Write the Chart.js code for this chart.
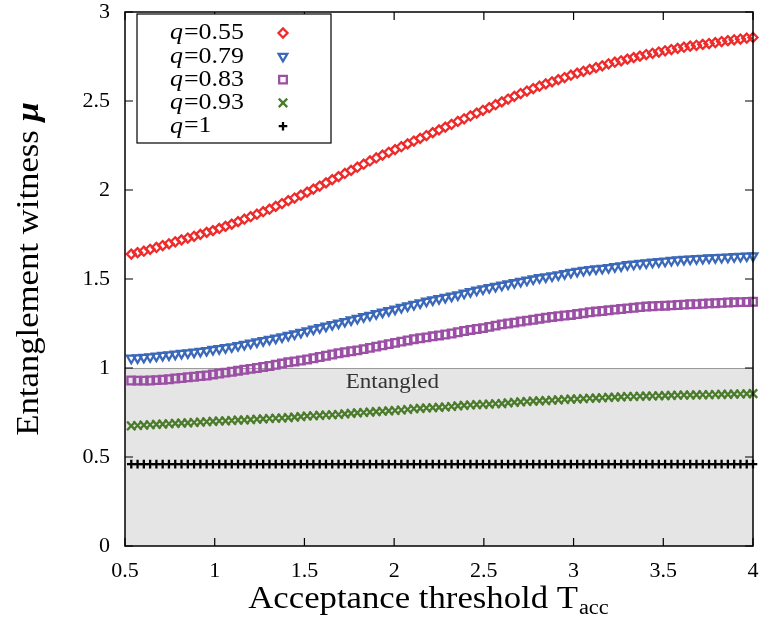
<!DOCTYPE html>
<html>
<head>
<meta charset="utf-8">
<script src="https://cdn.jsdelivr.net/npm/chart.js@4/dist/chart.umd.min.js"></script>
<style>
  html, body { margin: 0; padding: 0; background: #fff; }
  #wrap { width: 763px; height: 622px; position: relative; }
</style>
</head>
<body>
<div id="wrap"><canvas id="witnessChart"></canvas></div>
<script>
// acceptance threshold samples (x)
const tAcc = [
  0.535, 0.570, 0.605, 0.640, 0.675, 0.710, 0.745, 0.780, 0.815, 0.850,
  0.885, 0.920, 0.955, 0.990, 1.025, 1.060, 1.095, 1.130, 1.165, 1.200,
  1.235, 1.270, 1.305, 1.340, 1.375, 1.410, 1.445, 1.480, 1.515, 1.550,
  1.585, 1.620, 1.655, 1.690, 1.725, 1.760, 1.795, 1.830, 1.865, 1.900,
  1.935, 1.970, 2.005, 2.040, 2.075, 2.110, 2.145, 2.180, 2.215, 2.250,
  2.285, 2.320, 2.355, 2.390, 2.425, 2.460, 2.495, 2.530, 2.565, 2.600,
  2.635, 2.670, 2.705, 2.740, 2.775, 2.810, 2.845, 2.880, 2.915, 2.950,
  2.985, 3.020, 3.055, 3.090, 3.125, 3.160, 3.195, 3.230, 3.265, 3.300,
  3.335, 3.370, 3.405, 3.440, 3.475, 3.510, 3.545, 3.580, 3.615, 3.650,
  3.685, 3.720, 3.755, 3.790, 3.825, 3.860, 3.895, 3.930, 3.965, 4.000
];

// entanglement witness mu, one list per q
const muQ055 = [
  1.640, 1.648, 1.656, 1.667, 1.677, 1.688, 1.698, 1.709, 1.720, 1.730,
  1.740, 1.751, 1.762, 1.772, 1.784, 1.796, 1.808, 1.822, 1.836, 1.850,
  1.864, 1.878, 1.892, 1.908, 1.924, 1.940, 1.955, 1.971, 1.988, 2.005,
  2.022, 2.040, 2.058, 2.075, 2.093, 2.110, 2.128, 2.145, 2.163, 2.180,
  2.196, 2.212, 2.227, 2.243, 2.259, 2.275, 2.290, 2.306, 2.322, 2.338,
  2.353, 2.369, 2.385, 2.400, 2.416, 2.432, 2.448, 2.463, 2.479, 2.495,
  2.511, 2.526, 2.542, 2.556, 2.570, 2.583, 2.596, 2.608, 2.620, 2.632,
  2.645, 2.656, 2.667, 2.677, 2.688, 2.698, 2.709, 2.718, 2.726, 2.735,
  2.744, 2.752, 2.761, 2.768, 2.775, 2.782, 2.789, 2.796, 2.802, 2.808,
  2.813, 2.818, 2.823, 2.828, 2.834, 2.839, 2.844, 2.848, 2.853, 2.857
];
const muQ079 = [
  1.055, 1.057, 1.060, 1.063, 1.067, 1.071, 1.074, 1.078, 1.082, 1.085,
  1.089, 1.093, 1.098, 1.104, 1.109, 1.114, 1.119, 1.126, 1.133, 1.140,
  1.147, 1.154, 1.161, 1.168, 1.175, 1.183, 1.191, 1.200, 1.209, 1.218,
  1.226, 1.235, 1.244, 1.252, 1.261, 1.270, 1.279, 1.288, 1.296, 1.305,
  1.314, 1.322, 1.331, 1.340, 1.349, 1.357, 1.366, 1.375, 1.383, 1.390,
  1.397, 1.404, 1.411, 1.420, 1.429, 1.437, 1.444, 1.451, 1.458, 1.465,
  1.472, 1.479, 1.486, 1.493, 1.500, 1.507, 1.512, 1.517, 1.523, 1.530,
  1.537, 1.543, 1.548, 1.553, 1.557, 1.560, 1.564, 1.569, 1.574, 1.580,
  1.583, 1.587, 1.590, 1.594, 1.597, 1.600, 1.604, 1.607, 1.610, 1.612,
  1.614, 1.616, 1.618, 1.620, 1.621, 1.623, 1.625, 1.627, 1.629, 1.630
];
const muQ083 = [
  0.930, 0.929, 0.929, 0.930, 0.932, 0.934, 0.937, 0.941, 0.944, 0.948,
  0.951, 0.955, 0.958, 0.964, 0.969, 0.974, 0.979, 0.985, 0.990, 0.995,
  1.000, 1.006, 1.011, 1.018, 1.025, 1.032, 1.037, 1.042, 1.048, 1.055,
  1.062, 1.069, 1.076, 1.083, 1.089, 1.094, 1.099, 1.106, 1.113, 1.120,
  1.127, 1.134, 1.141, 1.148, 1.155, 1.162, 1.167, 1.172, 1.178, 1.183,
  1.188, 1.194, 1.201, 1.208, 1.214, 1.219, 1.224, 1.231, 1.238, 1.245,
  1.250, 1.255, 1.261, 1.266, 1.271, 1.277, 1.282, 1.287, 1.291, 1.295,
  1.298, 1.303, 1.308, 1.313, 1.317, 1.320, 1.324, 1.328, 1.331, 1.335,
  1.338, 1.342, 1.345, 1.347, 1.349, 1.350, 1.352, 1.354, 1.356, 1.358,
  1.359, 1.361, 1.363, 1.364, 1.366, 1.368, 1.369, 1.370, 1.371, 1.372
];
const muQ093 = [
  0.675, 0.677, 0.679, 0.681, 0.683, 0.685, 0.687, 0.689, 0.690, 0.692,
  0.694, 0.696, 0.698, 0.700, 0.702, 0.703, 0.705, 0.707, 0.708, 0.710,
  0.712, 0.714, 0.716, 0.718, 0.719, 0.721, 0.724, 0.727, 0.730, 0.732,
  0.734, 0.736, 0.737, 0.739, 0.742, 0.745, 0.748, 0.750, 0.752, 0.755,
  0.757, 0.759, 0.761, 0.764, 0.767, 0.771, 0.773, 0.775, 0.777, 0.779,
  0.781, 0.784, 0.787, 0.790, 0.792, 0.794, 0.795, 0.797, 0.799, 0.800,
  0.804, 0.807, 0.810, 0.812, 0.814, 0.815, 0.817, 0.819, 0.821, 0.823,
  0.825, 0.826, 0.828, 0.830, 0.831, 0.833, 0.835, 0.836, 0.838, 0.840,
  0.840, 0.841, 0.842, 0.843, 0.844, 0.845, 0.846, 0.847, 0.848, 0.848,
  0.849, 0.850, 0.850, 0.851, 0.852, 0.852, 0.853, 0.854, 0.855, 0.856
];
const muQ1 = [
  0.46, 0.46, 0.46, 0.46, 0.46, 0.46, 0.46, 0.46, 0.46, 0.46,
  0.46, 0.46, 0.46, 0.46, 0.46, 0.46, 0.46, 0.46, 0.46, 0.46,
  0.46, 0.46, 0.46, 0.46, 0.46, 0.46, 0.46, 0.46, 0.46, 0.46,
  0.46, 0.46, 0.46, 0.46, 0.46, 0.46, 0.46, 0.46, 0.46, 0.46,
  0.46, 0.46, 0.46, 0.46, 0.46, 0.46, 0.46, 0.46, 0.46, 0.46,
  0.46, 0.46, 0.46, 0.46, 0.46, 0.46, 0.46, 0.46, 0.46, 0.46,
  0.46, 0.46, 0.46, 0.46, 0.46, 0.46, 0.46, 0.46, 0.46, 0.46,
  0.46, 0.46, 0.46, 0.46, 0.46, 0.46, 0.46, 0.46, 0.46, 0.46,
  0.46, 0.46, 0.46, 0.46, 0.46, 0.46, 0.46, 0.46, 0.46, 0.46,
  0.46, 0.46, 0.46, 0.46, 0.46, 0.46, 0.46, 0.46, 0.46, 0.46
];

const qLabels = ['0.55', '0.79', '0.83', '0.93', '1'];
const xTicks = [0.5, 1, 1.5, 2, 2.5, 3, 3.5, 4];
const yTicks = [0, 0.5, 1, 1.5, 2, 2.5, 3];
const entangledBand = [0, 1]; // shaded region of mu

const SERIF = "'Liberation Serif', 'Times New Roman', serif";

function toPoints(ys) {
  return tAcc.map((x, i) => ({ x: x, y: ys[i] }));
}

function markerSet(label, ys, color, style, radius, rotation) {
  return {
    label: label,
    data: toPoints(ys),
    showLine: false,
    pointStyle: style,
    pointRadius: radius,
    pointRotation: rotation || 0,
    pointBorderColor: color,
    pointBackgroundColor: 'rgba(0,0,0,0)',
    pointBorderWidth: 2.3,
    pointHoverRadius: radius,
    clip: false
  };
}

// text a bit wider than Liberation Serif, closer to the TeX look
function wideText(ctx, txt, x, y, sx) {
  ctx.save();
  ctx.translate(x, y);
  ctx.scale(sx, 1);
  ctx.fillText(txt, 0, 0);
  ctx.restore();
}

// shaded band, frame, inward ticks, legend and axis titles
const decor = {
  id: 'decor',
  beforeDatasetsDraw(chart) {
    const { ctx, chartArea: a, scales: { x, y } } = chart;
    const yTop = y.getPixelForValue(entangledBand[1]);
    const yBot = y.getPixelForValue(entangledBand[0]);
    ctx.save();
    ctx.fillStyle = '#e5e5e5';
    ctx.fillRect(a.left, yTop, a.right - a.left, yBot - yTop);
    ctx.strokeStyle = '#9a9a9a';
    ctx.lineWidth = 1;
    ctx.beginPath();
    ctx.moveTo(a.left, yTop + 0.5);
    ctx.lineTo(a.right, yTop + 0.5);
    ctx.stroke();
    ctx.fillStyle = '#333';
    ctx.font = '20px ' + SERIF;
    ctx.textAlign = 'left';
    ctx.textBaseline = 'middle';
    const w = ctx.measureText('Entangled').width * 1.15;
    wideText(ctx, 'Entangled', x.getPixelForValue(1.99) - w / 2, y.getPixelForValue(0.915), 1.15);
    ctx.restore();
  },
  afterDatasetsDraw(chart) {
    const { ctx, chartArea: a, scales: { x, y } } = chart;
    ctx.save();
    // frame
    ctx.strokeStyle = '#000';
    ctx.lineWidth = 1.5;
    ctx.strokeRect(a.left, a.top, a.right - a.left, a.bottom - a.top);
    // ticks pointing inward on all four sides
    const tl = 8;
    ctx.lineWidth = 1.2;
    ctx.beginPath();
    xTicks.forEach(v => {
      const px = x.getPixelForValue(v);
      ctx.moveTo(px, a.bottom); ctx.lineTo(px, a.bottom - tl);
      ctx.moveTo(px, a.top); ctx.lineTo(px, a.top + tl);
    });
    yTicks.forEach(v => {
      const py = y.getPixelForValue(v);
      ctx.moveTo(a.left, py); ctx.lineTo(a.left + tl, py);
      ctx.moveTo(a.right, py); ctx.lineTo(a.right - tl, py);
    });
    ctx.stroke();

    // legend box
    const bx = a.left + 12, by = a.top + 2, bw = 194, bh = 129;
    ctx.fillStyle = '#fff';
    ctx.fillRect(bx, by, bw, bh);
    ctx.lineWidth = 1.2;
    ctx.strokeRect(bx, by, bw, bh);
    chart.data.datasets.forEach((ds, i) => {
      const rowY = by + 19 + i * 23.3;
      ctx.fillStyle = '#000';
      ctx.textBaseline = 'middle';
      ctx.textAlign = 'left';
      ctx.font = 'italic 24px ' + SERIF;
      wideText(ctx, 'q', bx + 33, rowY, 1.08);
      const qw = ctx.measureText('q').width * 1.08;
      ctx.font = '24px ' + SERIF;
      wideText(ctx, '=' + qLabels[i], bx + 33 + qw + 1, rowY, 1.08);
      ctx.strokeStyle = ds.pointBorderColor;
      ctx.fillStyle = 'rgba(0,0,0,0)';
      ctx.lineWidth = ds.pointBorderWidth;
      Chart.helpers.drawPoint(ctx, {
        pointStyle: ds.pointStyle,
        radius: ds.pointRadius,
        rotation: ds.pointRotation,
        borderWidth: ds.pointBorderWidth
      }, bx + 146, rowY);
    });

    // y axis title
    const sx = 1.12;
    ctx.fillStyle = '#000';
    ctx.save();
    ctx.translate(30, (a.top + a.bottom) / 2 - 10);
    ctx.rotate(-Math.PI / 2);
    ctx.textBaseline = 'middle';
    ctx.textAlign = 'left';
    const yt = 'Entanglement witness ';
    ctx.font = 'bold italic 31px ' + SERIF;
    const muW = ctx.measureText('\u03bc').width * sx;
    ctx.font = '31px ' + SERIF;
    const ytW = ctx.measureText(yt).width * sx;
    const y0 = -(ytW + muW) / 2;
    wideText(ctx, yt, y0, 0, sx);
    ctx.font = 'bold italic 31px ' + SERIF;
    wideText(ctx, '\u03bc', y0 + ytW, 0, sx);
    ctx.restore();

    // x axis title with subscript
    ctx.textBaseline = 'alphabetic';
    ctx.textAlign = 'left';
    ctx.font = '31px ' + SERIF;
    const xt = 'Acceptance threshold T';
    const xtW = ctx.measureText(xt).width * sx;
    ctx.font = '20px ' + SERIF;
    const subW = ctx.measureText('acc').width * sx;
    const tx = 428 - (xtW + subW) / 2;
    ctx.font = '31px ' + SERIF;
    wideText(ctx, xt, tx, 608, sx);
    ctx.font = '20px ' + SERIF;
    wideText(ctx, 'acc', tx + xtW + 1, 614, sx);
    ctx.restore();
  }
};

const ctx = document.getElementById('witnessChart').getContext('2d');
new Chart(ctx, {
  type: 'scatter',
  data: {
    datasets: [
      markerSet('q=0.55', muQ055, '#ee2b2b', 'rectRot', 4.5),
      markerSet('q=0.79', muQ079, '#3b68b9', 'triangle', 5, 180),
      markerSet('q=0.83', muQ083, '#9b4fa5', 'rect', 5.4),
      markerSet('q=0.93', muQ093, '#4b7c2c', 'crossRot', 6),
      markerSet('q=1', muQ1, '#000000', 'cross', 4.3)
    ]
  },
  options: {
    responsive: true,
    maintainAspectRatio: false,
    animation: false,
    layout: { padding: { left: 0, right: 10, top: 12, bottom: 0 } },
    plugins: {
      legend: { display: false },
      tooltip: { enabled: false }
    },
    scales: {
      x: {
        type: 'linear',
        min: 0.5,
        max: 4,
        afterBuildTicks: s => { s.ticks = xTicks.map(v => ({ value: v })); },
        afterFit: s => { s.height = 76; s.paddingLeft = 0; s.paddingRight = 0; },
        grid: { display: false, drawTicks: false },
        border: { display: false },
        ticks: {
          color: '#000',
          padding: 12,
          maxRotation: 0,
          font: { family: SERIF, size: 22 },
          callback: v => String(v)
        }
      },
      y: {
        type: 'linear',
        min: 0,
        max: 3,
        afterBuildTicks: s => { s.ticks = yTicks.map(v => ({ value: v })); },
        afterFit: s => { s.width = 125; s.paddingTop = 0; s.paddingBottom = 0; },
        grid: { display: false, drawTicks: false },
        border: { display: false },
        ticks: {
          color: '#000',
          padding: 15,
          font: { family: SERIF, size: 22 },
          callback: v => String(v)
        }
      }
    }
  },
  plugins: [decor]
});
</script>
</body>
</html>
